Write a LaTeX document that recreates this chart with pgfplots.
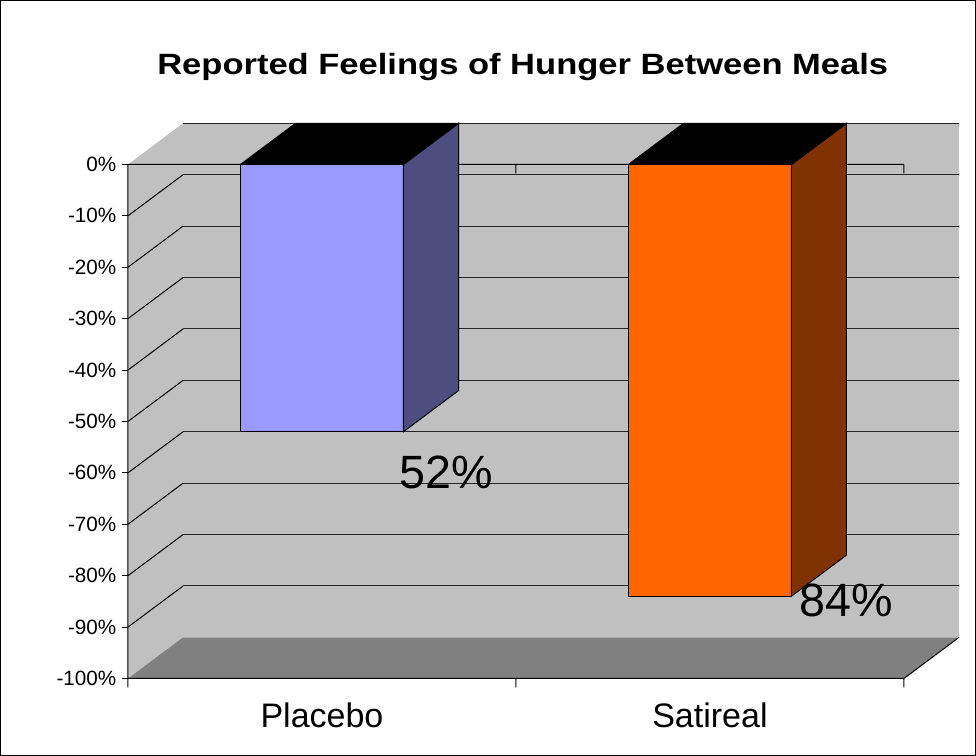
\documentclass[border=0pt]{standalone}
\usepackage{pgfplots}
\pgfplotsset{compat=1.18}
\usepackage{fontspec}
\setmainfont{Liberation Sans}
\usepackage{graphicx}
\definecolor{plfront}{HTML}{9999FF}
\definecolor{plside}{HTML}{4D4D80}
\definecolor{satfront}{HTML}{FF6600}
\definecolor{satside}{HTML}{803300}
\definecolor{wallc}{HTML}{C0C0C0}
\definecolor{floorc}{HTML}{808080}
\begin{document}
\begin{tikzpicture}
\begin{axis}[
  scale only axis, width=623.25pt, height=416.4pt,
  xmin=0, xmax=2.142, ymin=-100, ymax=8,
  clip=false, axis line style={draw=none},
  xtick={0.5,1.5}, xticklabels={Placebo,Satireal},
  ytick={-100,-90,-80,-70,-60,-50,-40,-30,-20,-10,0},
  yticklabels={-100\%,-90\%,-80\%,-70\%,-60\%,-50\%,-40\%,-30\%,-20\%,-10\%,0\%},
  major tick length=0pt, tick style={draw=none},
  xtick pos=bottom, ytick pos=left,
  xticklabel style={font=\fontsize{25.5}{30}\selectfont, anchor=base, inner sep=0pt, yshift=-36.6pt},
  yticklabel style={font=\fontsize{15.5}{18}\selectfont, anchor=east, inner sep=0pt, xshift=-8.6pt},
  no markers,
  every axis plot/.append style={line width=0.75pt, line join=miter},
]
% walls and floor
\addplot[fill=wallc, draw=none] coordinates {(0,0) (0.142,8) (0.142,-92) (0,-100)} -- cycle;
\addplot[fill=wallc, draw=none] coordinates {(0.142,8) (2.142,8) (2.142,-92) (0.142,-92)} -- cycle;
\addplot[fill=floorc, draw=none] coordinates {(0,-100) (2,-100) (2.142,-92) (0.142,-92)} -- cycle;
% back wall gridlines
\addplot[black!85, unbounded coords=jump] coordinates {
 (0.142,8) (2.142,8) (1,nan)
 (0.142,-2) (2.142,-2) (1,nan)
 (0.142,-12) (2.142,-12) (1,nan)
 (0.142,-22) (2.142,-22) (1,nan)
 (0.142,-32) (2.142,-32) (1,nan)
 (0.142,-42) (2.142,-42) (1,nan)
 (0.142,-52) (2.142,-52) (1,nan)
 (0.142,-62) (2.142,-62) (1,nan)
 (0.142,-72) (2.142,-72) (1,nan)
 (0.142,-82) (2.142,-82)
};
% side wall gridlines
\addplot[black, unbounded coords=jump] coordinates {
 (0,-10) (0.142,-2) (1,nan)
 (0,-20) (0.142,-12) (1,nan)
 (0,-30) (0.142,-22) (1,nan)
 (0,-40) (0.142,-32) (1,nan)
 (0,-50) (0.142,-42) (1,nan)
 (0,-60) (0.142,-52) (1,nan)
 (0,-70) (0.142,-62) (1,nan)
 (0,-80) (0.142,-72) (1,nan)
 (0,-90) (0.142,-82)
};
% axis lines and ticks
\addplot[black, unbounded coords=jump] coordinates {
 (0,0) (0,-101.75) (1,nan)
 (0,0) (2,0) (1,nan)
 (0,-100) (2,-100) (2.142,-92) (1,nan)
 (1,-100) (1,-101.75) (1,nan)
 (2,-100) (2,-101.75) (1,nan)
 (1,0) (1,-1.75) (1,nan)
 (2,0) (2,-1.75)
};
\addplot[black, unbounded coords=jump] coordinates {
 (-0.0155,0) (0,0) (1,nan)
 (-0.0155,-10) (0,-10) (1,nan)
 (-0.0155,-20) (0,-20) (1,nan)
 (-0.0155,-30) (0,-30) (1,nan)
 (-0.0155,-40) (0,-40) (1,nan)
 (-0.0155,-50) (0,-50) (1,nan)
 (-0.0155,-60) (0,-60) (1,nan)
 (-0.0155,-70) (0,-70) (1,nan)
 (-0.0155,-80) (0,-80) (1,nan)
 (-0.0155,-90) (0,-90) (1,nan)
 (-0.0155,-100) (0,-100)
};
% Placebo bar (-52)
\addplot[fill=plfront, draw=black] coordinates {(0.29,0) (0.71,0) (0.71,-52) (0.29,-52)} -- cycle;
\addplot[fill=plside, draw=black] coordinates {(0.71,0) (0.852,8) (0.852,-44) (0.71,-52)} -- cycle;
\addplot[fill=black, draw=black] coordinates {(0.29,0) (0.71,0) (0.852,8) (0.432,8)} -- cycle;
% Satireal bar (-84)
\addplot[fill=satfront, draw=black] coordinates {(1.29,0) (1.71,0) (1.71,-84) (1.29,-84)} -- cycle;
\addplot[fill=satside, draw=black] coordinates {(1.71,0) (1.852,8) (1.852,-76) (1.71,-84)} -- cycle;
\addplot[fill=black, draw=black] coordinates {(1.29,0) (1.71,0) (1.852,8) (1.432,8)} -- cycle;
% labels
\node[anchor=base west, inner sep=0pt, font=\fontsize{35}{42}\selectfont] at (axis cs:0.699,-63.1) {52\%};
\node[anchor=base west, inner sep=0pt, font=\fontsize{35}{42}\selectfont] at (axis cs:1.731,-88) {84\%};
\node[anchor=base, inner sep=0pt] at (axis cs:1.0175,17.5) {\scalebox{1.177}[1]{\bfseries\fontsize{22}{26}\selectfont Reported Feelings of Hunger Between Meals}};
\end{axis}
\draw[line width=0.75pt, shift={(current axis.south west)}] (-95.625pt,-57.75pt) rectangle (635.625pt,508.5pt);
\end{tikzpicture}
\end{document}
